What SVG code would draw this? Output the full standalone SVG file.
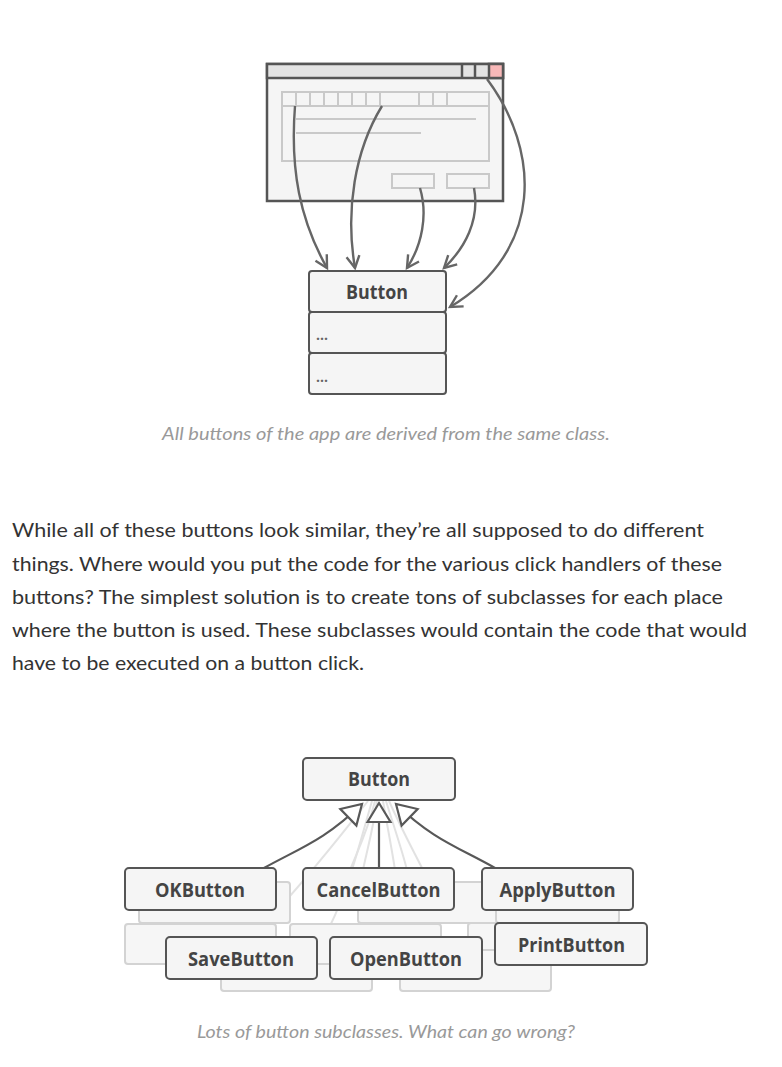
<svg xmlns="http://www.w3.org/2000/svg" width="782" height="1067" viewBox="0 0 782 1067">
<defs>
<style>
.box{fill:#f5f5f5;stroke:#555;stroke-width:2}
.bg{fill:#f6f6f6;stroke:#d3d3d3;stroke-width:2}
.pan{fill:none;stroke:#c9c9c9;stroke-width:2}
.lbl{font-family:"Open Sans","Noto Sans",sans-serif;font-weight:bold;font-size:19px;fill:#444;text-anchor:middle}
.dots{font-family:"Open Sans",sans-serif;font-weight:bold;font-size:14px;fill:#666}
.conn{fill:none;stroke:#666;stroke-width:2.4}
.inh{fill:none;stroke:#585858;stroke-width:2.2}
.fan{fill:none;stroke:#e2e2e2;stroke-width:2}
.para{font-family:Lato,"Noto Sans",sans-serif;font-size:20px;fill:#333}
.cap{font-family:Lato,"Noto Sans",sans-serif;font-style:italic;font-size:17.5px;fill:#999;text-anchor:start}
</style>
<marker id="chev" markerUnits="userSpaceOnUse" markerWidth="16" markerHeight="16" refX="13" refY="7" orient="auto" overflow="visible">
<path d="M1,0.5 L13,7 L1,13.5" fill="none" stroke="#666" stroke-width="2.4"/>
</marker>
<marker id="tri" markerUnits="userSpaceOnUse" markerWidth="22" markerHeight="26" refX="19" refY="11.5" orient="auto" overflow="visible">
<path d="M0,0 L19,11.5 L0,23 Z" fill="#fff" stroke="#585858" stroke-width="2.2" stroke-linejoin="miter"/>
</marker>
</defs>

<g id="app-window">
<rect x="267" y="64" width="236" height="137" fill="#f5f5f5" stroke="#555" stroke-width="2.5"/>
<rect x="267" y="64" width="236" height="14" fill="#e3e3e3" stroke="#555" stroke-width="2.5"/>
<rect x="489" y="64" width="14" height="14" fill="#f8b8b8" stroke="#555" stroke-width="2.5"/>
<line x1="462" y1="64" x2="462" y2="78" stroke="#555" stroke-width="2.5"/>
<line x1="475" y1="64" x2="475" y2="78" stroke="#555" stroke-width="2.5"/>
<rect class="pan" x="282" y="92" width="207" height="69"/>
<line class="pan" x1="282" y1="106" x2="489" y2="106"/>
<path class="pan" d="M296,92V106M310,92V106M324,92V106M338,92V106M352,92V106M366,92V106M380,92V106M419,92V106M433,92V106M447,92V106"/>
<line class="pan" x1="296" y1="119" x2="476" y2="119"/>
<line class="pan" x1="296" y1="133" x2="421" y2="133"/>
<rect class="pan" x="392" y="174" width="42" height="14"/>
<rect class="pan" x="447" y="174" width="42" height="14"/>
</g>

<g id="connectors-top">
<path class="conn" marker-end="url(#chev)" d="M295,106 C290,170 300,220 327,268"/>
<path class="conn" marker-end="url(#chev)" d="M382,106 C355,150 345,210 355,268"/>
<path class="conn" marker-end="url(#chev)" d="M420,188 C428,215 422,245 407,268"/>
<path class="conn" marker-end="url(#chev)" d="M474,188 C480,220 465,248 444,268"/>
<path class="conn" marker-end="url(#chev)" d="M487,79 C540,150 545,250 450,307"/>
</g>

<g id="button-class">
<rect class="box" x="309" y="271" width="137" height="41" rx="3"/>
<rect class="box" x="309" y="312" width="137" height="41" rx="3"/>
<rect class="box" x="309" y="353" width="137" height="41" rx="3"/>
<text class="lbl" x="377" y="299" textLength="62" lengthAdjust="spacingAndGlyphs">Button</text>
<text class="dots" x="316" y="340">...</text>
<text class="dots" x="316" y="382">...</text>
</g>

<g id="texts">
<text class="cap" x="162" y="440" textLength="448" lengthAdjust="spacingAndGlyphs">All buttons of the app are derived from the same class.</text>
<text class="para" x="12" y="537" textLength="692" lengthAdjust="spacingAndGlyphs">While all of these buttons look similar, they’re all supposed to do different</text>
<text class="para" x="12" y="570.5" textLength="710" lengthAdjust="spacingAndGlyphs">things. Where would you put the code for the various click handlers of these</text>
<text class="para" x="12" y="603.5" textLength="711" lengthAdjust="spacingAndGlyphs">buttons? The simplest solution is to create tons of subclasses for each place</text>
<text class="para" x="12" y="636.5" textLength="735" lengthAdjust="spacingAndGlyphs">where the button is used. These subclasses would contain the code that would</text>
<text class="para" x="12" y="669.5" textLength="352" lengthAdjust="spacingAndGlyphs">have to be executed on a button click.</text>
<text class="cap" x="197" y="1037.5" textLength="378" lengthAdjust="spacingAndGlyphs">Lots of button subclasses. What can go wrong?</text>
</g>

<g id="fan-lines">
<path class="fan" d="M368,801 C345,830 318,865 282,905"/>
<path class="fan" d="M372,801 C362,835 350,885 330,926"/>
<path class="fan" d="M375,801 C368,830 358,850 350,870"/>
<path class="fan" d="M377,801 C373,830 367,850 363,870"/>
<path class="fan" d="M383,801 C388,830 392,850 395,870"/>
<path class="fan" d="M386,801 C395,830 402,850 407,870"/>
<path class="fan" d="M389,801 C402,830 413,850 423,870"/>
</g>

<g id="background-subclasses">
<rect class="bg" x="139" y="882" width="151" height="41" rx="3"/>
<rect class="bg" x="358" y="882" width="151" height="41" rx="3"/>
<rect class="bg" x="496" y="882" width="123" height="41" rx="3"/>
<rect class="bg" x="125" y="924" width="151" height="40" rx="3"/>
<rect class="bg" x="221" y="950" width="151" height="41" rx="3"/>
<rect class="bg" x="290" y="924" width="151" height="40" rx="3"/>
<rect class="bg" x="468" y="923" width="151" height="41" rx="3"/>
<rect class="bg" x="400" y="950" width="151" height="41" rx="3"/>
</g>

<g id="connectors-bottom">
<path class="inh" marker-end="url(#tri)" d="M264,868 C300,848 325,840 362,804"/>
<path class="inh" marker-end="url(#tri)" d="M379,868 L379,803"/>
<path class="inh" marker-end="url(#tri)" d="M495,868 C460,848 433,840 396,804"/>
</g>

<g id="button-base">
<rect class="box" x="303" y="758" width="152" height="42" rx="4"/>
<text class="lbl" x="379" y="786" textLength="62" lengthAdjust="spacingAndGlyphs">Button</text>
</g>
<g id="ok-button">
<rect class="box" x="125" y="868" width="151" height="42" rx="4"/>
<text class="lbl" x="200" y="897" textLength="90" lengthAdjust="spacingAndGlyphs">OKButton</text>
</g>
<g id="cancel-button">
<rect class="box" x="303" y="868" width="151" height="42" rx="4"/>
<text class="lbl" x="378.5" y="897" textLength="124" lengthAdjust="spacingAndGlyphs">CancelButton</text>
</g>
<g id="apply-button">
<rect class="box" x="482" y="868" width="151" height="42" rx="4"/>
<text class="lbl" x="557.5" y="897" textLength="116" lengthAdjust="spacingAndGlyphs">ApplyButton</text>
</g>
<g id="save-button">
<rect class="box" x="166" y="937" width="151" height="42" rx="4"/>
<text class="lbl" x="241" y="966" textLength="106" lengthAdjust="spacingAndGlyphs">SaveButton</text>
</g>
<g id="open-button">
<rect class="box" x="330" y="937" width="152" height="42" rx="4"/>
<text class="lbl" x="406" y="966" textLength="112" lengthAdjust="spacingAndGlyphs">OpenButton</text>
</g>
<g id="print-button">
<rect class="box" x="495" y="923" width="152" height="42" rx="4"/>
<text class="lbl" x="571.5" y="951.5" textLength="107" lengthAdjust="spacingAndGlyphs">PrintButton</text>
</g>
</svg>
